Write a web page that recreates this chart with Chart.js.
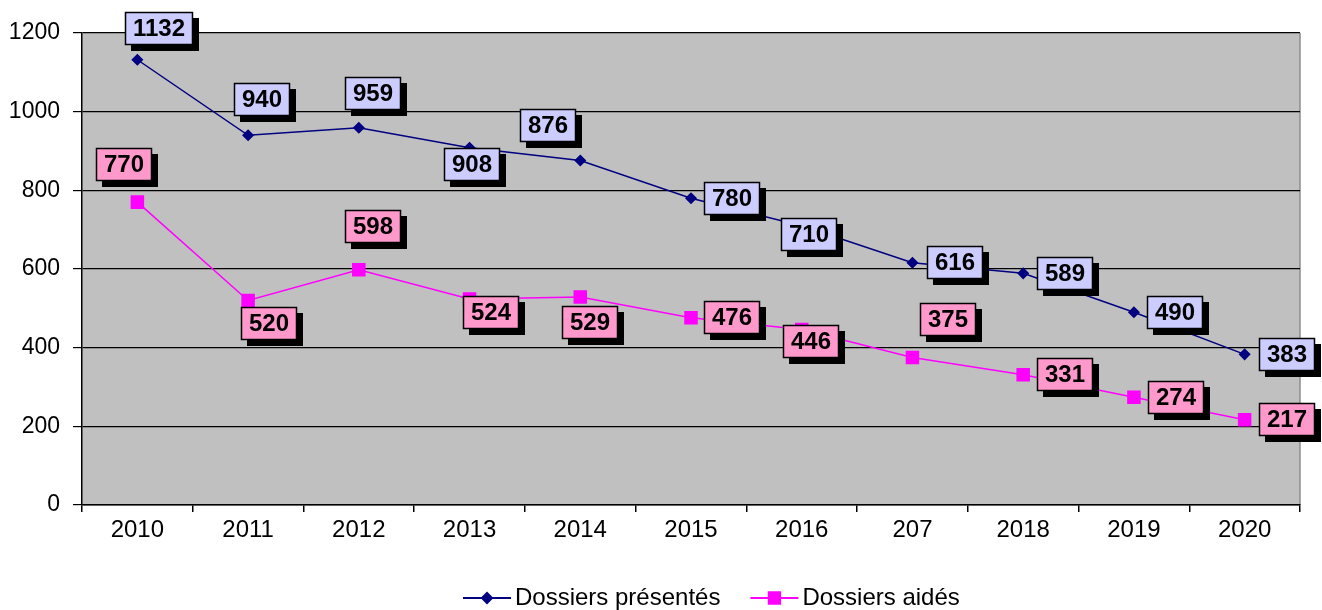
<!DOCTYPE html>
<html>
<head>
<meta charset="utf-8">
<script src="https://cdn.jsdelivr.net/npm/chart.js@4.4.1/dist/chart.umd.min.js"></script>
<style>
  html, body { margin: 0; padding: 0; background: #ffffff; }
  #wrap { width: 1322px; height: 610px; }
</style>
</head>
<body>
<div id="wrap"><canvas id="c" width="1322" height="610"></canvas></div>
<script>
// ---- Data ----
const categories = ['2010', '2011', '2012', '2013', '2014', '2015', '2016', '207', '2018', '2019', '2020'];
const dossiersPresentes = [1132, 940, 959, 908, 876, 780, 710, 616, 589, 490, 383];
const dossiersAides = [770, 520, 598, 524, 529, 476, 446, 375, 331, 274, 217];
const seriesNames = ['Dossiers présentés', 'Dossiers aidés'];
const yTicks = [0, 200, 400, 600, 800, 1000, 1200];

const FONT = '"Liberation Sans", Arial, Helvetica, sans-serif';

// Background of plot area + right border
const plotBg = {
  id: 'plotBg',
  beforeDraw(chart) {
    const { ctx, chartArea: a } = chart;
    ctx.save();
    ctx.fillStyle = '#C0C0C0';
    ctx.fillRect(a.left, a.top, a.right - a.left, a.bottom - a.top);
    ctx.strokeStyle = '#8c8c8c';
    ctx.lineWidth = 1.5;
    ctx.beginPath();
    ctx.moveTo(a.right, a.top);
    ctx.lineTo(a.right, a.bottom);
    ctx.stroke();
    ctx.restore();
  }
};

// Boxed value labels with drop shadow
const boxLabels = {
  id: 'boxLabels',
  afterDatasetsDraw(chart, args, opts) {
    const { ctx } = chart;
    ctx.save();
    ctx.font = 'bold 24px ' + FONT;
    ctx.textAlign = 'center';
    ctx.textBaseline = 'middle';
    chart.data.datasets.forEach((ds, di) => {
      const meta = chart.getDatasetMeta(di);
      const offs = opts.offsets[di];
      meta.data.forEach((pt, i) => {
        const txt = String(ds.data[i]);
        const cx = pt.x + offs[i][0];
        const cy = pt.y + offs[i][1];
        const w = Math.round(ctx.measureText(txt).width + 16);
        const h = 33;
        const x0 = Math.round(cx - w / 2), y0 = Math.round(cy - h / 2);
        ctx.fillStyle = '#000';
        ctx.fillRect(x0 + 6, y0 + 6, w, h);
        ctx.fillStyle = opts.fills[di];
        ctx.fillRect(x0, y0, w, h);
        ctx.strokeStyle = '#000';
        ctx.lineWidth = 1.5;
        ctx.strokeRect(x0 + 0.5, y0 + 0.5, w - 1, h - 1);
        ctx.fillStyle = '#000';
        ctx.fillText(txt, x0 + w / 2, y0 + h / 2 + 1);
      });
    });
    ctx.restore();
  }
};

// Legend with line + marker samples
const lineLegend = {
  id: 'lineLegend',
  afterDraw(chart, args, opts) {
    const { ctx } = chart;
    ctx.save();
    ctx.font = '24px ' + FONT;
    ctx.textBaseline = 'middle';
    ctx.textAlign = 'left';
    const y = opts.y;
    let x = opts.x;
    chart.data.datasets.forEach((ds, di) => {
      ctx.strokeStyle = ds.borderColor;
      ctx.lineWidth = 2;
      ctx.beginPath();
      ctx.moveTo(x, y);
      ctx.lineTo(x + 48, y);
      ctx.stroke();
      Chart.helpers.drawPoint(ctx, {
        pointStyle: ds.pointStyle,
        radius: ds.pointStyle === 'rect' ? 8 : 5,
        rotation: 0,
        borderWidth: 1
      }, x + 24, y);
      ctx.fillStyle = ds.pointBackgroundColor;
      ctx.fill();
      ctx.fillStyle = '#000';
      const t = ds.label;
      ctx.fillText(t, x + 52, y);
      x += 52 + ctx.measureText(t).width + 30;
    });
    ctx.restore();
  }
};

new Chart(document.getElementById('c'), {
  type: 'line',
  data: {
    labels: categories,
    datasets: [
      {
        label: seriesNames[0],
        data: dossiersPresentes,
        borderColor: '#000080',
        backgroundColor: '#000080',
        pointBackgroundColor: '#000080',
        pointBorderColor: '#000080',
        pointStyle: 'rectRot',
        pointRadius: 5,
        borderWidth: 1.5,
        tension: 0
      },
      {
        label: seriesNames[1],
        data: dossiersAides,
        borderColor: '#FF00FF',
        backgroundColor: '#FF00FF',
        pointBackgroundColor: '#FF00FF',
        pointBorderColor: '#FF00FF',
        pointStyle: 'rect',
        pointRadius: 8.5,
        borderWidth: 1.5,
        tension: 0
      }
    ]
  },
  options: {
    responsive: false,
    animation: false,
    events: [],
    layout: { padding: { top: 33, right: 22, left: 0, bottom: 0 } },
    scales: {
      x: {
        offset: true,
        grid: {
          offset: true,
          drawOnChartArea: false,
          drawTicks: true,
          tickLength: 7,
          color: '#000',
          lineWidth: 1.5
        },
        border: { color: '#000', width: 1.5 },
        ticks: {
          color: '#000',
          font: { family: FONT, size: 24 },
          padding: 4,
          maxRotation: 0,
          autoSkip: false
        },
        afterFit(scale) { scale.height = 105; }
      },
      y: {
        min: 0,
        max: 1200,
        afterBuildTicks(scale) { scale.ticks = yTicks.map(v => ({ value: v })); },
        grid: {
          color: '#000',
          lineWidth: 1.2,
          tickLength: 9,
          drawTicks: true
        },
        border: { color: '#000', width: 1.5 },
        ticks: {
          color: '#000',
          font: { family: FONT, size: 23 },
          padding: 13,
          callback: (v) => String(v)
        },
        afterFit(scale) { scale.width = 82; }
      }
    },
    plugins: {
      legend: { display: false },
      tooltip: { enabled: false },
      boxLabels: {
        fills: ['#CCCCFF', '#FF99CC'],
        offsets: [
          [[22, -31], [14, -36], [14, -34], [2, 17], [-32, -35], [41, 0], [7, 9], [43, 0], [42, 0], [41, 0], [42, 0]],
          [[-13, -38], [21, 23], [14, -43], [21, 14], [10, 26], [41, 0], [9, 12], [36, -38], [42, 0], [42, 0], [42, 0]]
        ]
      },
      lineLegend: { x: 463, y: 598 }
    }
  },
  plugins: [plotBg, boxLabels, lineLegend]
});
</script>
</body>
</html>
